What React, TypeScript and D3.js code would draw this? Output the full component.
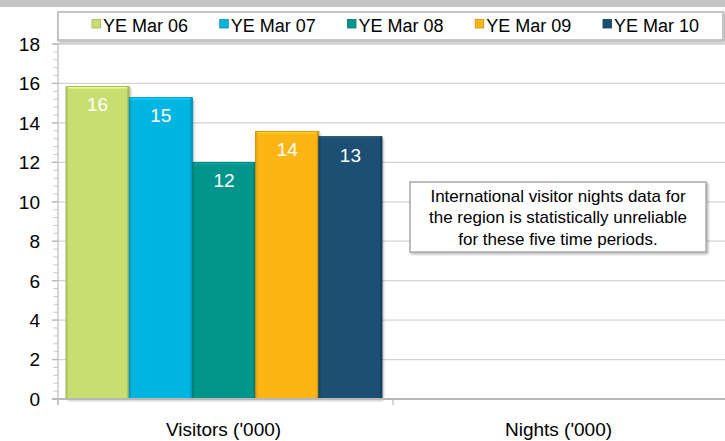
import React from "react";
import * as d3 from "d3";

const categories = ["Visitors ('000)", "Nights ('000)"];
const seriesNames = ["YE Mar 06", "YE Mar 07", "YE Mar 08", "YE Mar 09", "YE Mar 10"];
const visitorValues = [15.84, 15.28, 12.0, 13.56, 13.3];
const seriesColors = ["#c8de70", "#00b5e0", "#00958a", "#fdb515", "#1a4f73"];
const yTicks = [0, 2, 4, 6, 8, 10, 12, 14, 16, 18];
const noteLines = [
  "International visitor nights data for",
  "the region is statistically unreliable",
  "for these five time periods.",
];

const W = 725;
const H = 441;
const FONT = "'Liberation Sans', Arial, sans-serif";

export default function App() {
  const y = d3.scaleLinear().domain([0, 18]).range([399, 44]);
  const x = d3.scaleBand().domain(categories).range([58, 728]).padding(0);
  const bw = x.bandwidth();
  const xs = d3
    .scaleBand()
    .domain(seriesNames)
    .range([8, bw - 11])
    .padding(0);
  const minor = d3.range(0, 18.001, 0.4).filter((v) => Math.abs(v / 2 - Math.round(v / 2)) > 0.01);
  const darker = (c: string, k: number) => d3.color(c)!.darker(k).formatHex();
  const brighter = (c: string, k: number) => d3.color(c)!.brighter(k).formatHex();

  const legendX = d3.scaleLinear().domain([0, 4]).range([92, 603]);

  return (
    <svg
      width={W}
      height={H}
      style={{ position: "fixed", left: 0, top: 0, background: "#fff", fontFamily: FONT }}
    >
      <defs>
        <filter id="sh" x="-10%" y="-10%" width="130%" height="140%">
          <feDropShadow dx="1.5" dy="1.5" stdDeviation="1" floodColor="#000" floodOpacity="0.3" />
        </filter>
      </defs>
      {/* top band */}
      <rect x={0} y={0} width={W} height={7} fill="#c3c3c3" />

      {/* gridlines */}
      {yTicks.filter((t) => t > 0).map((t) => (
        <line key={t} x1={52} x2={W} y1={y(t)} y2={y(t)} stroke="#d4d4d4" strokeWidth={1.3} />
      ))}
      {/* y axis */}
      <line x1={58} x2={58} y1={y(18)} y2={405} stroke="#c0c0c0" strokeWidth={1.3} />
      {yTicks.map((t) => (
        <line key={"mt" + t} x1={52} x2={58} y1={y(t)} y2={y(t)} stroke="#b8b8b8" strokeWidth={1.3} />
      ))}
      {minor.map((t) => (
        <line key={"mn" + t} x1={53.5} x2={58} y1={y(t)} y2={y(t)} stroke="#c4c4c4" strokeWidth={1} />
      ))}
      {yTicks.map((t) => (
        <text key={"tl" + t} x={40} y={y(t)} dy="0.36em" textAnchor="end" fontSize={19} fill="#000">
          {t}
        </text>
      ))}

      {/* bars */}
      {visitorValues.map((v, i) => {
        const name = seriesNames[i];
        const bx = (x(categories[0]) as number) + (xs(name) as number);
        const w = xs.bandwidth();
        const top = y(v);
        const h = y(0) - top;
        const c = seriesColors[i];
        return (
          <g key={name}>
            <rect x={bx} y={top} width={w} height={h} fill={c} filter="url(#sh)" />
            <rect x={bx} y={top} width={w} height={2} fill={brighter(c, 0.4)} />
            <rect x={bx} y={top} width={2} height={h} fill={darker(c, 0.35)} opacity={0.7} />
            <rect x={bx + w - 2} y={top} width={2} height={h} fill={darker(c, 0.6)} opacity={0.8} />
            <rect x={bx} y={top} width={w} height={h} fill="none" stroke={darker(c, 0.7)} strokeWidth={0.8} />
            <text
              x={bx + w / 2}
              y={top + 18}
              dy="0.36em"
              textAnchor="middle"
              fontSize={19}
              fill="#fff"
            >
              {Math.round(v)}
            </text>
          </g>
        );
      })}

      {/* x axis */}
      <line x1={52} x2={W} y1={y(0)} y2={y(0)} stroke="#b8b8b8" strokeWidth={2} />
      {[58, 58 + bw, 58 + 2 * bw].map((px, i) => (
        <line key={"xt" + i} x1={px} x2={px} y1={y(0)} y2={405} stroke="#c0c0c0" strokeWidth={1.3} />
      ))}
      {categories.map((c) => (
        <text
          key={c}
          x={(x(c) as number) + bw / 2 - 2}
          y={429}
          dy="0.36em"
          textAnchor="middle"
          fontSize={19}
          fill="#000"
        >
          {c}
        </text>
      ))}

      {/* note box */}
      <rect x={410} y={182} width={296} height={70} fill="#fff" stroke="#a8a8a8" strokeWidth={1.5} filter="url(#sh)" />
      {noteLines.map((l, i) => (
        <text key={i} x={558} y={195.5 + i * 21.5} dy="0.36em" textAnchor="middle" fontSize={17} fill="#000">
          {l}
        </text>
      ))}

      {/* legend */}
      <rect x={58} y={12} width={665} height={28} fill="#fff" stroke="#c4c4c4" strokeWidth={2} filter="url(#sh)" />
      {seriesNames.map((s, i) => {
        const lx = legendX(i);
        const c = seriesColors[i];
        return (
          <g key={s}>
            <rect x={lx} y={19.5} width={8.5} height={8.5} fill={c} stroke={darker(c, 0.6)} strokeWidth={0.8} />
            <text x={lx + 11} y={26} dy="0.36em" fontSize={18} fill="#000">
              {s}
            </text>
          </g>
        );
      })}
    </svg>
  );
}
